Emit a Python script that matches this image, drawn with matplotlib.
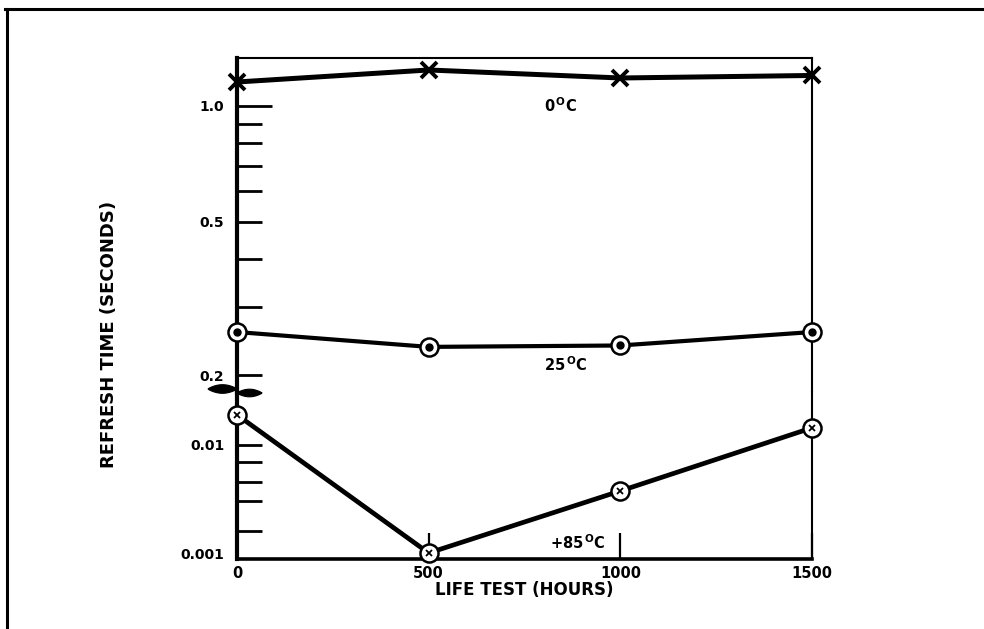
import matplotlib
matplotlib.use("Agg")
import matplotlib.pyplot as plt
from matplotlib.lines import Line2D
from matplotlib.patches import Polygon
from matplotlib.ticker import NullFormatter
import numpy as np

# life test readings, refresh time in seconds
hours = [0, 500, 1000, 1500]
t_0c = [1.154, 1.24, 1.182, 1.20]
t_25c = [0.259, 0.237, 0.239, 0.259]
t_85c = [0.019, 0.001, 0.00375, 0.0144]

upper_major = [0.2, 0.5, 1.0]
upper_labels = ["0.2", "0.5", "1.0"]
upper_minor = [0.3, 0.4, 0.6, 0.7, 0.8, 0.9]
lower_major = [0.001, 0.01]
lower_labels = ["0.001", "0.01"]
lower_minor = [0.0016, 0.003, 0.0045, 0.007]
x_ticks = [0, 500, 1000, 1500]

W, H = 984, 629
fig = plt.figure(figsize=(W / 100, H / 100), dpi=100)
plt.rcParams['font.family'] = ['DejaVu Sans']
plt.rcParams['mathtext.fontset'] = 'dejavusans'


def fx(px):
    return px / W


def fy(py):
    return 1 - py / H


left, right = 237, 812
top, brk, bottom = 58, 392, 559
ax_up = fig.add_axes([fx(left), fy(brk), fx(right) - fx(left), fy(top) - fy(brk)])
ax_lo = fig.add_axes([fx(left), fy(bottom), fx(right) - fx(left), fy(brk) - fy(bottom)])

for ax in (ax_up, ax_lo):
    ax.set_xlim(0, 1500)
    ax.set_yscale('log')
    ax.spines['left'].set_linewidth(3.0)
    ax.spines['right'].set_linewidth(1.5)
    ax.spines['top'].set_linewidth(1.5)
    ax.spines['bottom'].set_linewidth(2.6)
    ax.tick_params(axis='y', which='both', direction='in', length=18, width=2.0,
                   labelsize=10, pad=9, right=False)
    ax.yaxis.set_minor_formatter(NullFormatter())

ax_up.set_ylim(0.181, 1.332)
ax_up.set_yticks(upper_major)
ax_up.set_yticklabels(upper_labels, fontweight='bold')
ax_up.set_yticks(upper_minor, minor=True)
ax_up.spines['bottom'].set_visible(False)
ax_up.set_xticks([])
ax_up.yaxis.get_major_ticks()[2].tick1line.set_markersize(25)

ax_lo.set_ylim(0.00088, 0.0309)
ax_lo.set_yticks(lower_major)
ax_lo.set_yticklabels(lower_labels, fontweight='bold')
ax_lo.set_yticks(lower_minor, minor=True)
ax_lo.yaxis.get_major_ticks()[0].tick1line.set_visible(False)
ax_lo.spines['top'].set_visible(False)
ax_lo.set_xticks(x_ticks)
ax_lo.set_xticklabels([str(v) for v in x_ticks], fontweight='bold')
ax_lo.tick_params(axis='x', direction='in', length=19, width=1.6, labelsize=10.5, pad=5)
ax_lo.set_xlabel("LIFE TEST (HOURS)", fontsize=12, fontweight='bold', labelpad=0)

# 0 C and 25 C curves on the upper scale
ax_up.plot(hours, t_0c, color='black', lw=3.6, clip_on=False, zorder=3)
ax_up.plot(hours, t_0c, 'x', color='black', ms=11, mew=2.8, clip_on=False, zorder=4)
ax_up.plot(hours, t_25c, color='black', lw=3.0, clip_on=False, zorder=3)
ax_up.plot(hours, t_25c, 'o', mfc='white', mec='black', ms=13, mew=1.8,
           clip_on=False, zorder=4)
ax_up.plot(hours, t_25c, 'o', color='black', ms=5, clip_on=False, zorder=5)

# +85 C curve on the lower scale
ax_lo.plot(hours, t_85c, color='black', lw=3.4, clip_on=False, zorder=3)
ax_lo.plot(hours, t_85c, 'o', mfc='white', mec='black', ms=13, mew=1.8,
           clip_on=False, zorder=4)
ax_lo.plot(hours, t_85c, 'x', color='black', ms=5, mew=1.3, clip_on=False, zorder=5)

ax_up.text(843, 1.0, r'$\mathbf{0^{\,O}C}$', fontsize=10.5, ha='center', va='center')
ax_up.text(856, 0.213, r'$\mathbf{25^{\,O}C}$', fontsize=10.5, ha='center', va='center')
ax_lo.text(890, 0.00124, r'$\mathbf{+85^{\,O}C}$', fontsize=10.5, ha='center', va='center')

fig.text(fx(109), fy(334), "REFRESH TIME (SECONDS)", rotation=90, fontsize=13,
         fontweight='bold', ha='center', va='center')

# break mark on the left axis
xs = np.linspace(208, 237, 30)
th = 4.3 * np.sin(np.pi * (xs - 208) / 29) ** 0.8
lobe1 = list(zip(xs, 389 - th)) + list(zip(xs[::-1], (389 + th)[::-1]))
xs2 = np.linspace(237, 262, 30)
th2 = 3.8 * np.sin(np.pi * (xs2 - 237) / 25) ** 0.8
lobe2 = list(zip(xs2, 393 - th2)) + list(zip(xs2[::-1], (393 + th2)[::-1]))
for lobe in (lobe1, lobe2):
    pts = [(fx(a), fy(b)) for a, b in lobe]
    fig.patches.append(Polygon(pts, closed=True, facecolor='black', edgecolor='black',
                               lw=0.8, transform=fig.transFigure))

# outer frame
fig.lines.append(Line2D([fx(5), 1], [fy(9), fy(9)], color='black', lw=2.2,
                        transform=fig.transFigure))
fig.lines.append(Line2D([fx(7), fx(7)], [fy(9), 0], color='black', lw=2.2,
                        transform=fig.transFigure))

fig.savefig("out.png", dpi=100)
